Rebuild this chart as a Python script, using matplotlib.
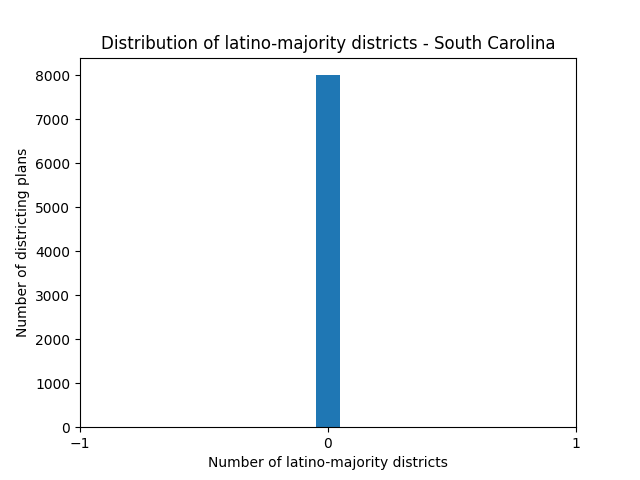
import matplotlib
matplotlib.use("Agg")
import matplotlib.pyplot as plt

# number of latino-majority districts per plan and how many plans had it
districts = [0]
plan_counts = [8000]
bin_width = 0.1

fig, ax = plt.subplots(figsize=(6.4, 4.8), dpi=100)
ax.bar(districts, plan_counts, width=bin_width, color="#1f77b4")
ax.set_xlim(-1, 1)
ax.set_xticks([-1, 0, 1])
ax.set_title("Distribution of latino-majority districts - South Carolina")
ax.set_xlabel("Number of latino-majority districts")
ax.set_ylabel("Number of districting plans")

fig.savefig("out.png")
